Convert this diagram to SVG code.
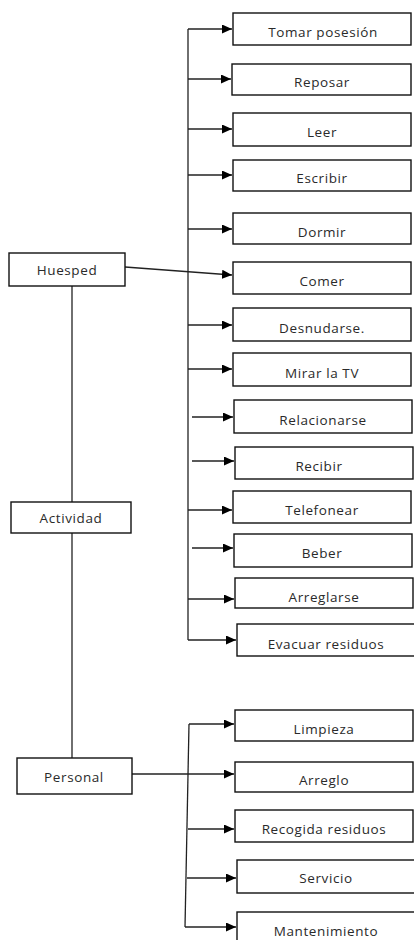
<svg xmlns="http://www.w3.org/2000/svg" width="414" height="940" viewBox="0 0 414 940">
<style>
.box{fill:#fff;stroke:#111;stroke-width:1.4}
.t{font-family:"Open Sans","DejaVu Sans",sans-serif;font-size:13.5px;fill:#2a2a2a;text-anchor:middle;letter-spacing:0.6px}
.c{fill:none;stroke:#222;stroke-width:1.3}
</style>
<defs>
<marker id="ah" markerWidth="11" markerHeight="9" refX="10" refY="4.5" orient="auto" markerUnits="userSpaceOnUse">
<path d="M0,0 L10,4.5 L0,9 Z" fill="#000"/>
</marker>
</defs>
<g id="connectors">
<path class="c" d="M188,29 L188,640"/>
<path class="c" d="M72,286 L72,502"/>
<path class="c" d="M72,533 L72,758"/>
<path class="c" d="M188,29 L232,29" marker-end="url(#ah)"/>
<path class="c" d="M188,79 L231,79" marker-end="url(#ah)"/>
<path class="c" d="M188,129 L232,129" marker-end="url(#ah)"/>
<path class="c" d="M188,175 L232,175" marker-end="url(#ah)"/>
<path class="c" d="M188,229 L232,229" marker-end="url(#ah)"/>
<path class="c" d="M125,267 L232,275" marker-end="url(#ah)"/>
<path class="c" d="M188,325 L232,325" marker-end="url(#ah)"/>
<path class="c" d="M188,369 L232,369" marker-end="url(#ah)"/>
<path class="c" d="M192,417 L233,417" marker-end="url(#ah)"/>
<path class="c" d="M192,461 L234,461" marker-end="url(#ah)"/>
<path class="c" d="M188,510 L232,510" marker-end="url(#ah)"/>
<path class="c" d="M192,548 L233,548" marker-end="url(#ah)"/>
<path class="c" d="M188,599 L234,599" marker-end="url(#ah)"/>
<path class="c" d="M188,640 L236,640" marker-end="url(#ah)"/>
<path class="c" d="M189,724 L185,927"/>
<path class="c" d="M189,724 L234,724" marker-end="url(#ah)"/>
<path class="c" d="M132,774 L234,774" marker-end="url(#ah)"/>
<path class="c" d="M188,829 L234,829" marker-end="url(#ah)"/>
<path class="c" d="M187,878 L236,878" marker-end="url(#ah)"/>
<path class="c" d="M185,927 L236,927" marker-end="url(#ah)"/>
</g>
<g id="huesped"><rect class="box" x="9" y="253" width="116" height="33"/><text class="t" x="67" y="275">Huesped</text></g>
<g id="actividad"><rect class="box" x="11" y="502" width="120" height="31"/><text class="t" x="71" y="523">Actividad</text></g>
<g id="personal"><rect class="box" x="17" y="758" width="115" height="36"/><text class="t" x="74" y="782">Personal</text></g>
<g id="tomar"><rect class="box" x="233" y="13" width="178" height="32"/><text class="t" x="323" y="37">Tomar posesión</text></g>
<g id="reposar"><rect class="box" x="232" y="64" width="179" height="31"/><text class="t" x="322" y="87">Reposar</text></g>
<g id="leer"><rect class="box" x="233" y="113" width="178" height="33"/><text class="t" x="322" y="137">Leer</text></g>
<g id="escribir"><rect class="box" x="233" y="160" width="178" height="31"/><text class="t" x="322" y="183">Escribir</text></g>
<g id="dormir"><rect class="box" x="233" y="213" width="178" height="31"/><text class="t" x="322" y="237">Dormir</text></g>
<g id="comer"><rect class="box" x="233" y="262" width="178" height="32"/><text class="t" x="322" y="286">Comer</text></g>
<g id="desnudarse"><rect class="box" x="233" y="308" width="178" height="33"/><text class="t" x="322" y="333">Desnudarse.</text></g>
<g id="mirar"><rect class="box" x="233" y="353" width="178" height="33"/><text class="t" x="322" y="378">Mirar la TV</text></g>
<g id="relacionarse"><rect class="box" x="234" y="400" width="178" height="33"/><text class="t" x="323" y="425">Relacionarse</text></g>
<g id="recibir"><rect class="box" x="235" y="447" width="178" height="32"/><text class="t" x="319" y="471">Recibir</text></g>
<g id="telefonear"><rect class="box" x="233" y="491" width="178" height="32"/><text class="t" x="322" y="515">Telefonear</text></g>
<g id="beber"><rect class="box" x="234" y="534" width="178" height="33"/><text class="t" x="322" y="558">Beber</text></g>
<g id="arreglarse"><rect class="box" x="235" y="578" width="178" height="30"/><text class="t" x="324" y="602">Arreglarse</text></g>
<g id="evacuar"><rect class="box" x="237" y="624" width="178" height="32"/><text class="t" x="326" y="649">Evacuar residuos</text></g>
<g id="limpieza"><rect class="box" x="235" y="710" width="178" height="31"/><text class="t" x="324" y="734">Limpieza</text></g>
<g id="arreglo"><rect class="box" x="235" y="762" width="178" height="30"/><text class="t" x="324" y="785">Arreglo</text></g>
<g id="recogida"><rect class="box" x="235" y="810" width="178" height="32"/><text class="t" x="324" y="834">Recogida residuos</text></g>
<g id="servicio"><rect class="box" x="237" y="860" width="178" height="33"/><text class="t" x="326" y="883">Servicio</text></g>
<g id="mantenimiento"><rect class="box" x="237" y="912" width="178" height="32"/><text class="t" x="326" y="936">Mantenimiento</text></g>
</svg>
